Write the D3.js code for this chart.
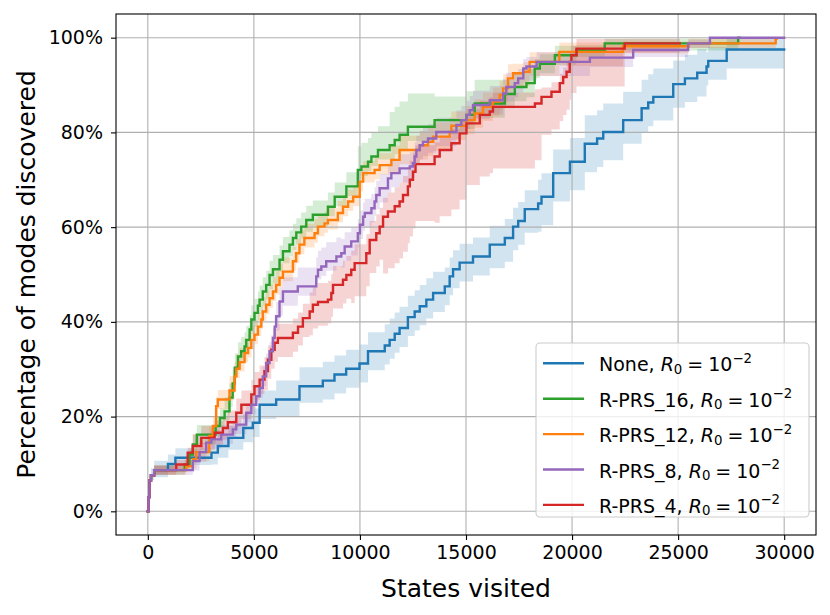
<!DOCTYPE html>
<html><head><meta charset="utf-8">
<script src="https://cdn.jsdelivr.net/npm/d3@7"></script>
<style>body{margin:0;background:#fff} svg{display:block} text{font-family:"DejaVu Sans",sans-serif}</style>
</head><body><svg id="c" width="830" height="615"></svg>
<script>
// ---------------- data ----------------
const xTicks = [0, 5000, 10000, 15000, 20000, 25000, 30000];
const yTicks = [0, 20, 40, 60, 80, 100];
const xLabel = "States visited";
const yLabel = "Percentage of modes discovered";
const seriesNames = ["None", "R-PRS_16", "R-PRS_12", "R-PRS_8", "R-PRS_4"];
const seriesColors = ["#1f77b4", "#2ca02c", "#ff7f0e", "#9467bd", "#d62728"];

// step points: [states visited, % modes discovered]
const noneSteps = [[0,0],[30,3],[80,6.5],[150,7.6],[300,8.7],[950,10],[1300,11.3],[3000,12.4],[3300,13.8],[3800,15.5],[4500,17.6],[4950,18.7],[5270,22.5],[6050,23.6],[7150,26.4],[8250,27.6],[8800,28.9],[9350,30.1],[9980,31.2],[10380,33.8],[11170,35],[11400,36.2],[11640,37.5],[11870,38.7],[12260,41],[12580,42.2],[12820,43.3],[13130,44.7],[13450,46.1],[14000,47.5],[14230,49.6],[14390,51.1],[14700,52.5],[15330,53.8],[16120,56.3],[16830,57.7],[17220,60.1],[17460,61.3],[17770,63.8],[18400,65],[18560,66.4],[19110,71.4],[19900,73.8],[20600,77.6],[21180,78.7],[21470,80.1],[22410,82.6],[23280,85.1],[23590,86.3],[23830,87.5],[24770,90.2],[25320,91.4],[25900,92.6],[26340,93.9],[26420,95.1],[27290,97.5],[30000,97.5]];
const prs16Steps = [[0,0],[30,3],[80,6.5],[150,7.6],[300,8.7],[1740,9.9],[1970,12],[2120,14.1],[2310,16.2],[3200,18],[3400,19.7],[3620,21.1],[3850,24],[4000,27],[4100,30.3],[4250,32.7],[4400,33.8],[4560,34.8],[4640,36.2],[4800,38.4],[4880,40.5],[5030,41.9],[5190,43.4],[5270,44.7],[5420,46.4],[5580,47.8],[5740,49.9],[5900,51.1],[6210,53.1],[6370,54.9],[6680,56.3],[6840,57.7],[7000,58.9],[7230,60.1],[7470,61.5],[7780,62.6],[8490,64.3],[8810,66.4],[9360,68.6],[9900,72.1],[10070,72.8],[10380,73.8],[10540,74.9],[10850,76.3],[11400,77.3],[11640,78.4],[11870,79.5],[12260,81.2],[13520,82.6],[15020,83.7],[15410,86.1],[16830,88.1],[17300,89.6],[17850,90.4],[18240,93.5],[18480,94.5],[19190,96.3],[20210,97.4],[21540,98.8],[27830,100],[27900,100]];
const prs12Steps = [[0,0],[30,3],[80,6.5],[150,7.6],[300,8.7],[1810,9.5],[2120,11],[2280,12.5],[2900,15.9],[3070,18],[3220,22.2],[3300,23.6],[3850,25.5],[4090,28.5],[4170,30.1],[4330,31.5],[4560,33.4],[4720,34.5],[4880,36.2],[5030,37.3],[5190,39],[5350,40.5],[5420,42.2],[5580,43.6],[5740,45],[5900,46.4],[6050,47.8],[6210,49.3],[6370,50.6],[6840,52.8],[6990,54.5],[7150,56.3],[7380,57.7],[7860,58.7],[8020,60.1],[8330,60.8],[8490,61.5],[8960,63],[9200,64.3],[9440,65.4],[9680,66.4],[9990,69.6],[10150,71.4],[10690,72.1],[10930,73.1],[11480,74.2],[11870,76.3],[12820,77.3],[13210,78],[13450,79.1],[14230,80.1],[14310,81.4],[15020,82.6],[15410,84],[15800,85.4],[16270,86.5],[16590,87.9],[16750,89.3],[16980,91.4],[17220,92.5],[17700,92.8],[18000,94.9],[19400,97],[22400,98.2],[25500,98.8],[29600,99.8],[29650,99.8]];
const prs8Steps = [[0,0],[30,3],[80,6.5],[150,7.6],[300,8.7],[2120,10.6],[2440,12.5],[2750,14.5],[2990,15.2],[3460,16.2],[4010,17.3],[4170,18.3],[4640,20.8],[4880,22.5],[5110,24.3],[5270,26],[5420,28.5],[5580,31.3],[5740,33.8],[5900,36.6],[5980,39],[6050,41.2],[6210,44.3],[6370,46.4],[7070,47.5],[7940,49.6],[8020,51],[8180,51.7],[8410,52.8],[8890,53.8],[9120,54.5],[9280,55.9],[9590,57],[9900,58.7],[10000,60.5],[10150,62.2],[10230,63],[10540,64],[10690,65.4],[10770,66.8],[10930,68.2],[11320,70.3],[11480,71.4],[11870,72.4],[12350,72.8],[12500,73.5],[12580,74.9],[12660,76.3],[12820,77.3],[12970,78],[13210,78.7],[13600,80.1],[14550,81.6],[14780,82.6],[15020,83.7],[15180,84.7],[15330,85.8],[16120,86.8],[16750,88.2],[16900,89.6],[17300,90.4],[17460,91.4],[17700,93.5],[17850,93.9],[18330,94.9],[20840,95.8],[22880,97.4],[25470,98.8],[26500,100],[30000,100]];
const prs4Steps = [[0,0],[30,3],[80,6.5],[150,7.6],[300,8.7],[1340,9.9],[1880,12.4],[2120,13.8],[2520,15.5],[3150,16.6],[3540,17.6],[3770,18.8],[4170,20.8],[4410,22.5],[4880,24.7],[5030,26.4],[5270,27.8],[5500,29.6],[5660,32],[5820,34.1],[5980,35.6],[6130,36.6],[6840,37.7],[7080,39],[7310,40.8],[7630,42.2],[7780,43.6],[8020,44.2],[8490,44.7],[8650,46.1],[8730,47.8],[9200,48.9],[9360,49.9],[9590,51],[9750,52.4],[10300,54.5],[10460,57.3],[10770,58.7],[10930,60.1],[11090,62.2],[11320,63.3],[11640,64.4],[11870,65.4],[12030,66.8],[12260,68.6],[12350,70],[12500,71.7],[12620,73.3],[13520,74.9],[13760,76.3],[14310,77.7],[14700,79.8],[15020,81.9],[15650,83.7],[16120,84.4],[16270,85.4],[18250,86.1],[18560,87.5],[19030,88.6],[19420,90.4],[19580,91.7],[19740,92.8],[19890,94.9],[19970,96.3],[20210,97.7],[22480,98.8],[25080,98.8]];

// shaded band spread: [from states, below line %, above line %]
const noneSpread = [[0,0,0],[150,1,1.5],[300,1.5,2],[1000,1.5,2],[2500,2.5,2.5],[4000,3,3],[5500,3.5,4],[8000,4,4],[11000,4,4.5],[14000,4,4],[16000,5,4],[18000,6,5],[20000,6,6],[22000,5,6],[24000,5,5],[26000,4,3],[27300,1.5,0.5]];
const prs16Spread = [[0,0,0],[300,1,1],[2000,2,2],[3500,2,3],[4500,3,3],[6000,2.5,3],[8000,2,3],[9500,2,5],[11000,3,7],[13500,3,5],[15500,3,3],[18000,2,2],[20000,1.5,1],[22000,1,0.8]];
const prs12Spread = [[0,0,0],[300,1,1],[2000,2,2],[3500,2,3],[5000,2,3],[8000,2,2.5],[11000,3,3],[14000,3,3],[17000,3,2],[20000,1.5,1],[23000,1,1]];
const prs8Spread = [[0,0,0],[300,1,1],[2000,2,2],[4000,2,2],[6000,3,3],[7000,2,4],[9000,3,3],[11000,3,3],[14000,3,3],[17000,3,2],[19000,2,2],[21000,1.5,1],[23000,1,0.8],[26500,0,0]];
const prs4Spread = [[0,0,0],[300,1,1],[2000,2.5,2.5],[4000,3,3],[5500,4,3],[7500,5,4],[9500,7,4],[11000,12,4],[13000,14,3],[15000,13,3],[17000,12,3],[18300,8,2],[20300,2,1],[23000,1.5,1]];

const seriesSteps = [noneSteps, prs16Steps, prs12Steps, prs8Steps, prs4Steps];
const seriesSpread = [noneSpread, prs16Spread, prs12Spread, prs8Spread, prs4Spread];
const drawOrder = [0, 1, 2, 4, 3];

// ---------------- layout ----------------
const L = 116, R = 816, T = 14, B = 535;
const svg = d3.select("#c");
const x = d3.scaleLinear().domain([-1500, 31500]).range([L, R]);
const y = d3.scaleLinear().domain([-5, 105]).range([B, T]);

svg.append("defs").append("clipPath").attr("id", "clip")
  .append("rect").attr("x", L).attr("y", T).attr("width", R - L).attr("height", B - T);

// bands
const bandG = svg.append("g").attr("clip-path", "url(#clip)");
function spreadAt(sp, s) {
  let e = sp[0];
  for (const p of sp) if (p[0] <= s) e = p;
  return e;
}
drawOrder.forEach(i => {
  const pts = seriesSteps[i].map(d => {
    const e = spreadAt(seriesSpread[i], d[0]);
    return {s: d[0], lo: Math.max(0, d[1] - e[1]), hi: Math.min(100, d[1] + e[2])};
  });
  const area = d3.area().curve(d3.curveStepAfter)
    .x(d => x(d.s)).y0(d => y(d.lo)).y1(d => y(d.hi));
  bandG.append("path").attr("d", area(pts))
    .attr("fill", seriesColors[i]).attr("fill-opacity", 0.2).attr("stroke", "none");
});

// grid
const gridG = svg.append("g");
xTicks.forEach(t => gridG.append("line").attr("x1", x(t)).attr("x2", x(t)).attr("y1", T).attr("y2", B)
  .attr("stroke", "#b0b0b0").attr("stroke-width", 1.1));
yTicks.forEach(t => gridG.append("line").attr("x1", L).attr("x2", R).attr("y1", y(t)).attr("y2", y(t))
  .attr("stroke", "#b0b0b0").attr("stroke-width", 1.1));

// lines
const lineG = svg.append("g").attr("clip-path", "url(#clip)");
const line = d3.line().curve(d3.curveStepAfter).x(d => x(d[0])).y(d => y(d[1]));
drawOrder.forEach(i => {
  lineG.append("path").attr("d", line(seriesSteps[i]))
    .attr("fill", "none").attr("stroke", seriesColors[i]).attr("stroke-width", 2.4)
    .attr("stroke-linejoin", "miter").attr("stroke-linecap", "square");
});

// spines
svg.append("rect").attr("x", L).attr("y", T).attr("width", R - L).attr("height", B - T)
  .attr("fill", "none").attr("stroke", "#000").attr("stroke-width", 1.1);

// axes
const xAxis = d3.axisBottom(x).tickValues(xTicks).tickSize(5).tickPadding(6).tickFormat(d3.format("d"));
const gx = svg.append("g").attr("transform", `translate(0,${B})`).call(xAxis);
const yAxis = d3.axisLeft(y).tickValues(yTicks).tickSize(5).tickPadding(8).tickFormat(d => d + "%");
const gy = svg.append("g").attr("transform", `translate(${L},0)`).call(yAxis);
[gx, gy].forEach(g => {
  g.select(".domain").remove();
  g.selectAll(".tick line").attr("stroke", "#000").attr("stroke-width", 1.1);
  g.selectAll(".tick text").attr("fill", "#000").style("font-size", "19px").style("font-family", "DejaVu Sans");
});

// axis labels
svg.append("text").attr("x", (L + R) / 2).attr("y", 597).attr("text-anchor", "middle")
  .style("font-size", "25px").text(xLabel);
svg.append("text").attr("transform", `translate(35,${(T + B) / 2}) rotate(-90)`).attr("text-anchor", "middle")
  .style("font-size", "25px").text(yLabel);

// legend
const lg = svg.append("g");
lg.append("rect").attr("x", 536).attr("y", 343).attr("width", 273).attr("height", 174).attr("rx", 4)
  .attr("fill", "#fff").attr("fill-opacity", 0.8).attr("stroke", "#cccccc").attr("stroke-width", 1.1);
seriesNames.forEach((name, i) => {
  const cy = 363.3 + i * 35.4;
  lg.append("line").attr("x1", 543).attr("x2", 584).attr("y1", cy).attr("y2", cy)
    .attr("stroke", seriesColors[i]).attr("stroke-width", 2.4);
  const t = lg.append("text").attr("x", 599).attr("y", cy + 8).style("font-size", "19px").attr("fill", "#000");
  t.append("tspan").text(name + ", ");
  t.append("tspan").style("font-style", "italic").text("R");
  t.append("tspan").style("font-size", "13.3px").attr("dy", 2.5).text("0");
  t.append("tspan").attr("dy", -2.5).attr("dx", 5).text("=");
  t.append("tspan").attr("dx", 5).text("10");
  t.append("tspan").style("font-size", "13.3px").attr("dy", -8.5).text("\u22122");
});
</script>
</body></html>
